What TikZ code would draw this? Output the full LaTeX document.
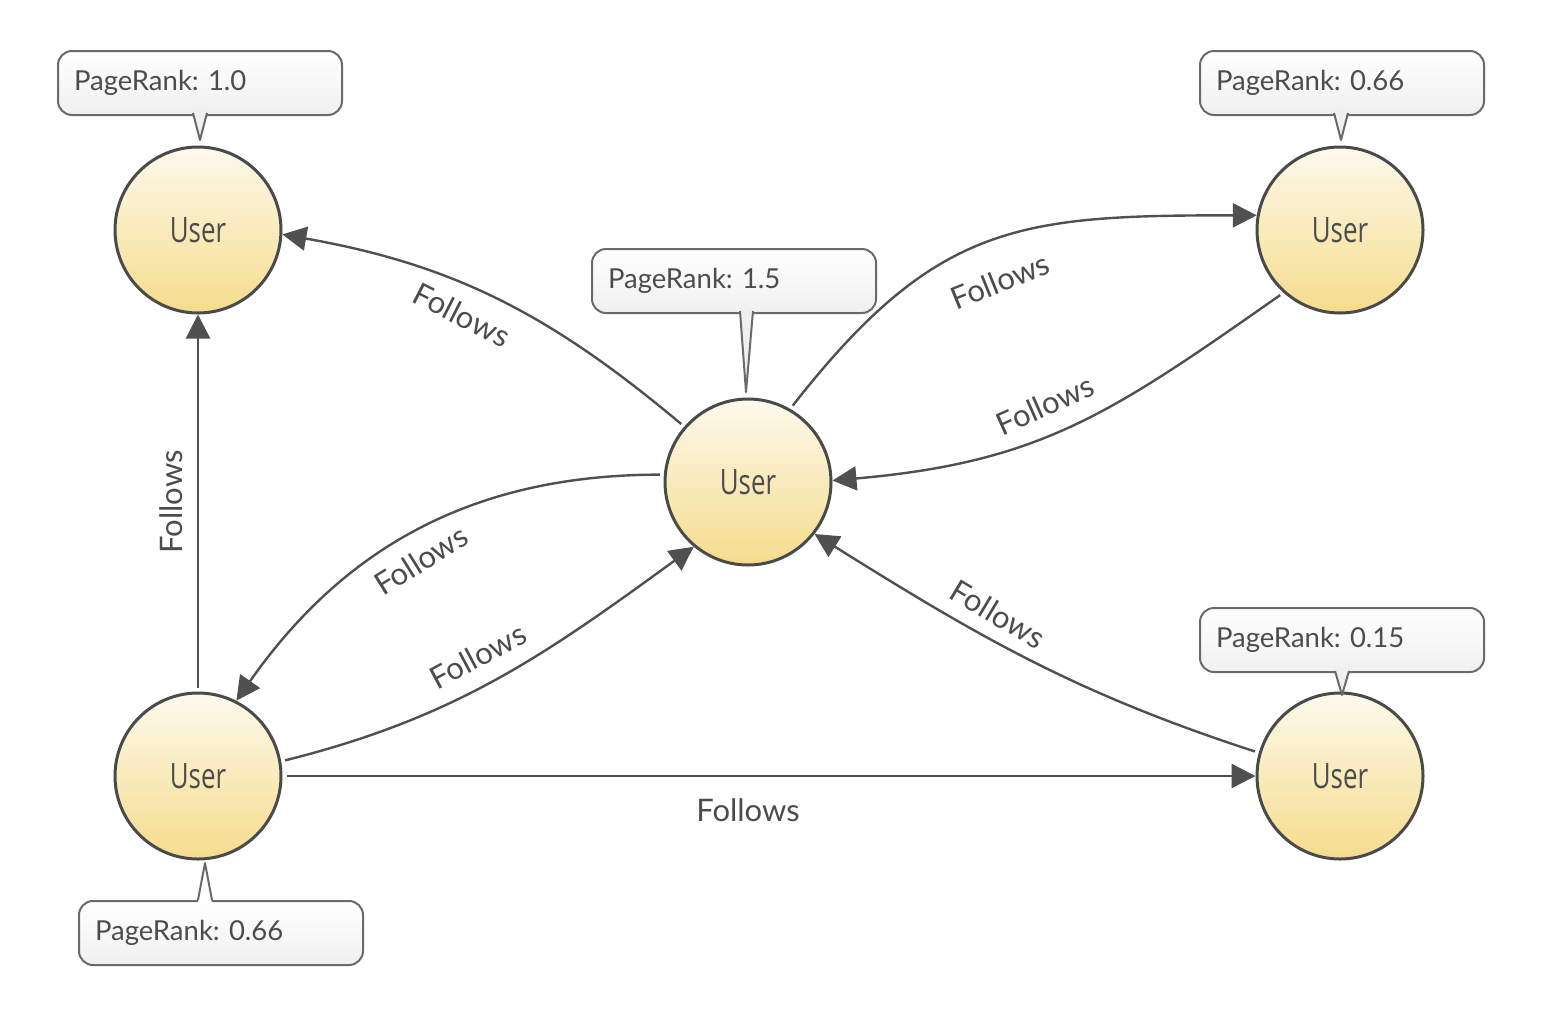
\documentclass[tikz,border=0pt]{standalone}
\usepackage{fontspec}
\setmainfont{Lato}
\newfontfamily\userfont[FakeStretch=0.74]{Open Sans}
\usetikzlibrary{arrows.meta}
\definecolor{edgecol}{HTML}{505050}
\definecolor{ringcol}{HTML}{4A4A4A}
\definecolor{usertop}{HTML}{FDF9EC}
\definecolor{userbot}{HTML}{F5DC8C}
\definecolor{textcol}{HTML}{4C4C4C}
\definecolor{boxcol}{HTML}{6A6A6A}
\definecolor{boxbot}{HTML}{F0F0F0}
\frenchspacing
\begin{document}
\begin{tikzpicture}[x=1pt,y=1pt,
  user/.style={circle, draw=ringcol, line width=3pt, minimum size=166pt, inner sep=0pt,
    top color=usertop, bottom color=userbot, font=\userfont\fontsize{35}{36}\selectfont, text=textcol},
  callout/.style={draw=boxcol, line width=2pt, rounded corners=14pt, top color=white, bottom color=boxbot,
    text width=252pt, inner xsep=16pt, inner ysep=0pt, minimum height=64pt, align=left, anchor=north west,
    font=\fontsize{27.5}{30}\selectfont, text=textcol},
  link/.style={draw=edgecol, line width=2.4pt, shorten <=4pt, -{Triangle[length=24pt,width=24pt]}},
  lbl/.style={font=\fontsize{31}{33}\selectfont, text=textcol},
  ptrfill/.style={fill=boxbot},
  ptrline/.style={draw=boxcol, line width=2pt, line join=round}]

\useasboundingbox (0,0) rectangle (1566,-1018);

% users
\node[user] (TL) at (198,-230) {User};
\node[user] (C)  at (748,-482) {User};
\node[user] (TR) at (1340,-230) {User};
\node[user] (BL) at (198,-776) {User};
\node[user] (BR) at (1340,-776) {User};

% callouts
\node[callout] (pTL) at (57,-50) {PageRank: 1.0};
\node[callout] (pC)  at (591,-248) {PageRank: 1.5};
\node[callout] (pTR) at (1199,-50) {PageRank: 0.66};
\node[callout] (pBR) at (1199,-607) {PageRank: 0.15};
\node[callout] (pBL) at (78,-900) {PageRank: 0.66};

% pointers
\fill[ptrfill] (193,-110) -- (200,-140) -- (207,-110) -- cycle;
\draw[ptrline] (193,-113) -- (200,-140) -- (207,-113);
\fill[ptrfill] (740,-308) -- (746,-392) -- (753,-308) -- cycle;
\draw[ptrline] (740,-311) -- (746,-392) -- (753,-311);
\fill[ptrfill] (1334,-110) -- (1341,-140) -- (1348,-110) -- cycle;
\draw[ptrline] (1334,-113) -- (1341,-140) -- (1348,-113);
\fill[ptrfill] (1335,-668) -- (1342,-695) -- (1349,-668) -- cycle;
\draw[ptrline] (1335,-671) -- (1342,-695) -- (1349,-671);
\fill[white] (198,-903) -- (205,-863) -- (212,-903) -- cycle;
\draw[ptrline] (198,-900) -- (205,-863) -- (212,-900);

% connectors
\draw[link] (C.139) to[out=140, in=-10] (TL.-3);
\draw[link] (C.60) to[out=52, in=180, looseness=1.2] (TR.170);
\draw[link] (TR.228) to[out=215, in=5, looseness=1.1] (C.1);
\draw[link] (C.175) to[out=180, in=55] (BL.63);
\draw[link] (BL.10) to[out=14, in=216] (C.230);
\draw[link] (BR.164) to[out=162, in=-32] (C.-38);
\draw[link] (BL) -- (TL);
\draw[link] (BL) -- (BR);

% labels
\node[lbl, rotate=-27] (l1) at (462,-315) {Follows};
\node[lbl, rotate=22]  (l2) at (1000,-281) {Follows};
\node[lbl, rotate=24]  (l3) at (1045,-405) {Follows};
\node[lbl, rotate=32]  (l4) at (421,-560) {Follows};
\node[lbl, rotate=28]  (l5) at (478,-656) {Follows};
\node[lbl, rotate=-31] (l6) at (998,-614) {Follows};
\node[lbl, rotate=90]  (l7) at (171,-502) {Follows};
\node[lbl]             (l8) at (748,-810) {Follows};
\end{tikzpicture}
\end{document}
